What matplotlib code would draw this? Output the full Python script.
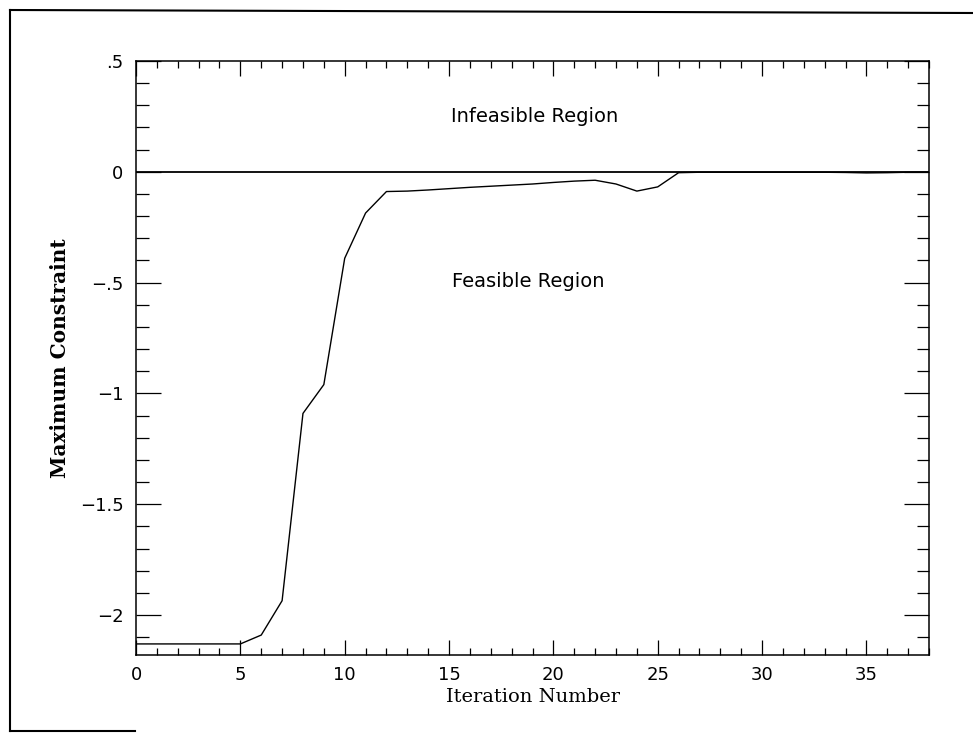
import matplotlib
matplotlib.use("Agg")
import matplotlib.pyplot as plt
from matplotlib.ticker import MultipleLocator, FixedLocator
from matplotlib.lines import Line2D

iterations = list(range(0, 39))
max_constraint = [-2.13, -2.13, -2.13, -2.13, -2.13, -2.13, -2.09, -1.935, -1.09, -0.96,
                  -0.39, -0.186, -0.089, -0.087, -0.082, -0.076, -0.070, -0.065, -0.060, -0.055,
                  -0.048, -0.042, -0.038, -0.055, -0.087, -0.068, -0.004, -0.002, -0.002, -0.002,
                  -0.002, -0.002, -0.002, -0.002, -0.003, -0.005, -0.004, -0.002, -0.001]
y_ticks = [0.5, 0.0, -0.5, -1.0, -1.5, -2.0]
y_tick_labels = [".5", "0", "\u2212.5", "\u22121", "\u22121.5", "\u22122"]
x_ticks = [0, 5, 10, 15, 20, 25, 30, 35]
x_tick_labels = ["0", "5", "10", "15", "20", "25", "30", "35"]

fig = plt.figure(figsize=(9.73, 7.33), dpi=100)
ax = fig.add_axes([0.1398, 0.1064, 0.815, 0.8104])

ax.axhline(0, color="black", lw=1.3)
ax.plot(iterations, max_constraint, color="black", lw=1.0)

ax.set_xlim(0, 38)
ax.set_ylim(-2.18, 0.5)

ax.xaxis.set_major_locator(FixedLocator(x_ticks))
ax.set_xticklabels(x_tick_labels)
ax.xaxis.set_minor_locator(MultipleLocator(1))
ax.yaxis.set_major_locator(FixedLocator(y_ticks))
ax.set_yticklabels(y_tick_labels)
ax.yaxis.set_minor_locator(MultipleLocator(0.1))

ax.tick_params(axis="both", which="both", direction="in", top=True, right=True, width=0.9, colors="black")
ax.tick_params(axis="x", which="major", length=11, labelsize=13, pad=8)
ax.tick_params(axis="x", which="minor", length=5)
ax.tick_params(axis="y", which="major", length=18, labelsize=13, pad=9)
ax.tick_params(axis="y", which="minor", length=9)
for lab in ax.get_xticklabels() + ax.get_yticklabels():
    lab.set_fontfamily("DejaVu Sans")
    lab.set_color("black")

for s in ax.spines.values():
    s.set_linewidth(1.1)

ax.set_xlabel("Iteration Number", fontsize=14, family="DejaVu Serif", labelpad=3)
ax.set_ylabel("Maximum Constraint", fontsize=14.5, family="DejaVu Serif", fontweight="bold", labelpad=7)

ax.text(19.1, 0.25, "Infeasible Region", fontsize=14, family="DejaVu Sans", color="black", ha="center", va="center")
ax.text(18.8, -0.495, "Feasible Region", fontsize=14, family="DejaVu Sans", color="black", ha="center", va="center")

# outer frame lines
fig.add_artist(Line2D([10/973, 10/973], [1 - 10/733, 1 - 731/733], transform=fig.transFigure, color="black", lw=1.5))
fig.add_artist(Line2D([10/973, 1.0], [1 - 10/733, 1 - 13/733], transform=fig.transFigure, color="black", lw=1.5))
fig.add_artist(Line2D([10/973, 135/973], [1 - 731/733, 1 - 731/733], transform=fig.transFigure, color="black", lw=1.5))

fig.savefig("out.png", dpi=100)
